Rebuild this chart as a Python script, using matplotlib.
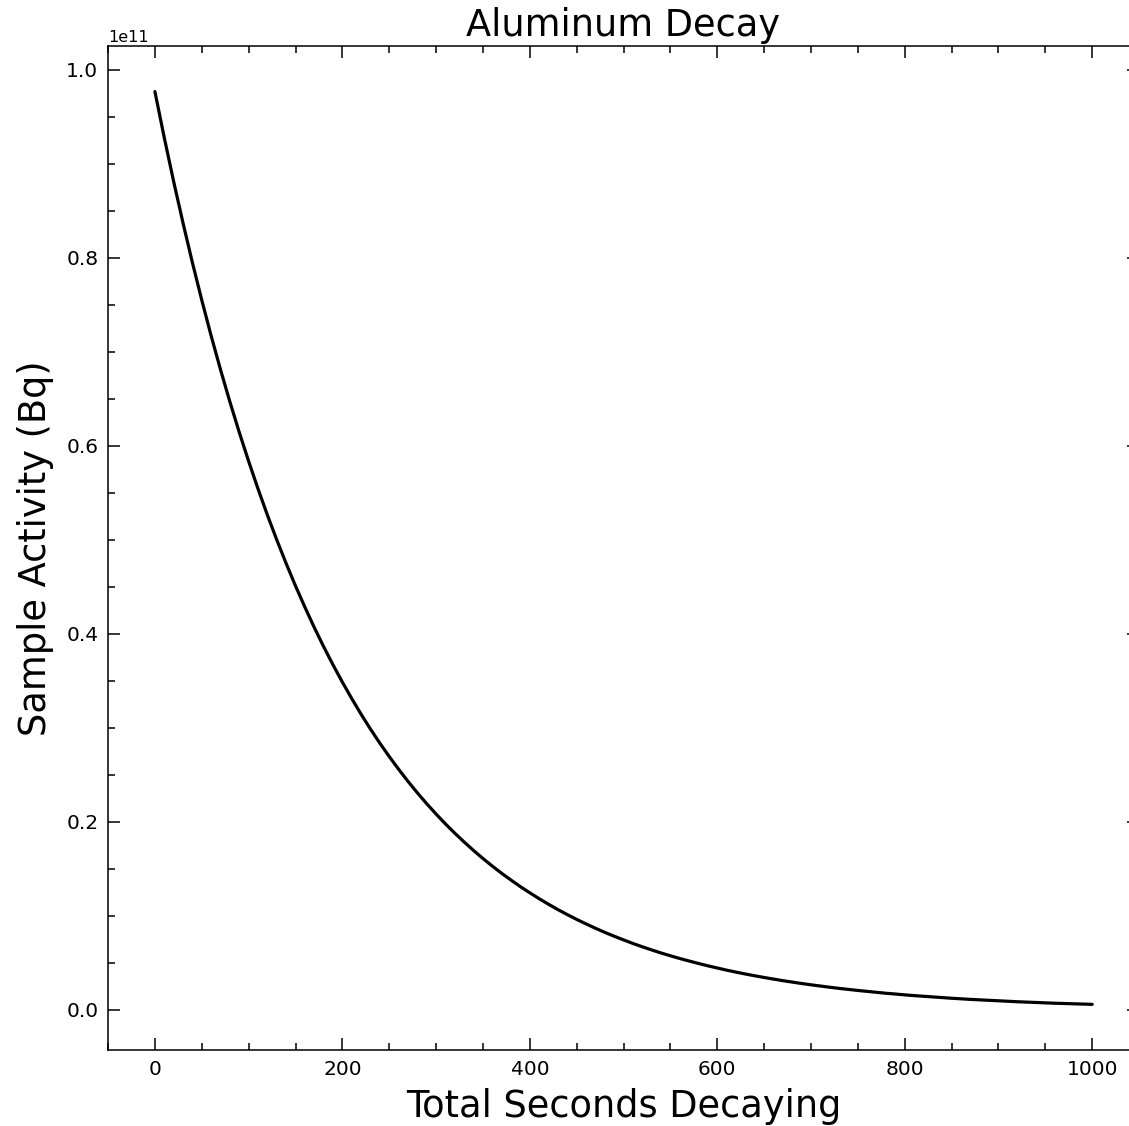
import matplotlib
matplotlib.use("Agg")
import matplotlib.pyplot as plt
from matplotlib.ticker import MultipleLocator

# Elapsed time (s) and sample activity (units of 1e11 Bq)
seconds = list(range(0, 1001, 10))
activity_e11 = [
    0.9770, 0.9279, 0.8813, 0.8371, 0.7950, 0.7551, 0.7171, 0.6811, 0.6469, 0.6144,
    0.5836, 0.5543, 0.5264, 0.5000, 0.4749, 0.4510, 0.4284, 0.4068, 0.3864, 0.3670,
    0.3486, 0.3311, 0.3144, 0.2986, 0.2836, 0.2694, 0.2559, 0.2430, 0.2308, 0.2192,
    0.2082, 0.1977, 0.1878, 0.1784, 0.1694, 0.1609, 0.1528, 0.1451, 0.1379, 0.1309,
    0.1244, 0.1181, 0.1122, 0.1065, 0.1012, 0.0961, 0.0913, 0.0867, 0.0823, 0.0782,
    0.0743, 0.0705, 0.0670, 0.0636, 0.0604, 0.0574, 0.0545, 0.0518, 0.0492, 0.0467,
    0.0444, 0.0421, 0.0400, 0.0380, 0.0361, 0.0343, 0.0326, 0.0309, 0.0294, 0.0279,
    0.0265, 0.0252, 0.0239, 0.0227, 0.0216, 0.0205, 0.0195, 0.0185, 0.0175, 0.0167,
    0.0158, 0.0150, 0.0143, 0.0136, 0.0129, 0.0122, 0.0116, 0.0110, 0.0105, 0.0100,
    0.0095, 0.0090, 0.0085, 0.0081, 0.0077, 0.0073, 0.0069, 0.0066, 0.0063, 0.0060,
    0.0057,
]
activity = [v * 1e11 for v in activity_e11]

title = "Aluminum Decay"
xlabel = "Total Seconds Decaying"
ylabel = "Sample Activity (Bq)"

plt.rcParams['font.family'] = ['DejaVu Sans']

fig = plt.figure(figsize=(11.29, 11.26), dpi=100)
ax = fig.add_axes([0.0957, 0.0675, 0.9132, 0.8917])

ax.plot(seconds, activity, color='black', lw=2.3, solid_capstyle='round')

ax.set_title(title, fontsize=26.5, pad=7)
ax.set_xlabel(xlabel, fontsize=26.5, labelpad=7)
ax.set_ylabel(ylabel, fontsize=26.5, labelpad=9)

ax.xaxis.set_major_locator(MultipleLocator(200))
ax.xaxis.set_minor_locator(MultipleLocator(50))
ax.yaxis.set_major_locator(MultipleLocator(0.2e11))
ax.yaxis.set_minor_locator(MultipleLocator(0.05e11))

ax.tick_params(which='both', direction='in', top=True, right=True, width=1.1)
ax.tick_params(which='major', length=8.6, labelsize=14.5, pad=7)
ax.tick_params(which='minor', length=4.7)
ax.yaxis.get_offset_text().set_fontsize(11.5)

for s in ax.spines.values():
    s.set_linewidth(1.1)

fig.savefig("out.png", dpi=100)
